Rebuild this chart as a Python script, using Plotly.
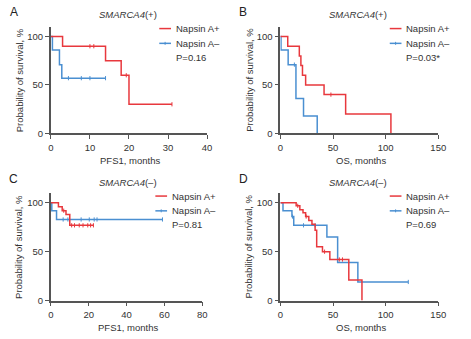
import numpy as np
import plotly.graph_objects as go

W, H = 471, 339
RED = "#E8383D"
BLUE = "#4A8FD1"
AXC = "#555555"
TXT = "#333333"
FONT = "Liberation Sans, Arial, sans-serif"

# ---------------- data ----------------
# Panel A: SMARCA4(+), PFS1
A_pos_t = [0, 3, 14, 18, 20, 31]
A_pos_s = [100, 90, 75, 60, 30, 30]
A_pos_cens = [10, 11, 19.3, 31]
A_neg_t = [0, 0.4, 2.2, 2.8, 14]
A_neg_s = [100, 86, 71, 57, 57]
A_neg_cens = [4.5, 7.8, 10, 14]

# Panel B: SMARCA4(+), OS
B_pos_t = [0, 7, 18, 19.5, 21, 24, 41.5, 62, 105]
B_pos_s = [100, 90, 80, 70, 60, 50, 40, 20, 0]
B_pos_cens = [48]
B_neg_t = [0, 0.6, 7.4, 14.8, 22, 35]
B_neg_s = [100, 86, 71, 36, 18, 0]
B_neg_cens = [13.3]

# Panel C: SMARCA4(-), PFS1
C_pos_t = [0, 4, 6, 8, 10, 22.5]
C_pos_s = [100, 96, 92, 88, 77, 77]
C_pos_cens = [6.8, 11, 12.5, 15, 17, 19.5, 21, 22.5]
C_neg_t = [0, 0.5, 3, 59]
C_neg_s = [100, 92, 83, 83]
C_neg_cens = [6.5, 9, 16, 20.3, 22.9, 24.4, 59]

# Panel D: SMARCA4(-), OS
D_pos_t = [0, 15, 18.5, 21.5, 24, 27, 30, 33, 34.5, 40, 47, 65, 77.5]
D_pos_s = [100, 97, 93, 90, 86, 82, 78, 72, 55, 50, 42, 21, 0]
D_pos_cens = [16.5, 24.5, 42, 56, 59]
D_neg_t = [0, 2.5, 11, 12.7, 44.2, 54.4, 73.6, 121.5]
D_neg_s = [100, 92, 86, 77, 65, 39, 19, 19]
D_neg_cens = [11.5, 22, 33, 121.5]

panel_letters = ["A", "B", "C", "D"]
panel_titles = ["(+)", "(+)", "(\u2013)", "(\u2013)"]
x_titles = ["PFS1, months", "OS, months", "PFS1, months", "OS, months"]
x_ticks = [[0, 10, 20, 30, 40], [0, 50, 100, 150], [0, 20, 40, 60, 80], [0, 50, 100, 150]]
y_ticks = [0, 50, 100]
p_values = ["P=0.16", "P=0.03*", "P=0.81", "P=0.69"]
legend_names = ["Napsin A+", "Napsin A\u2013"]

panels = [
    (A_pos_t, A_pos_s, A_pos_cens, A_neg_t, A_neg_s, A_neg_cens),
    (B_pos_t, B_pos_s, B_pos_cens, B_neg_t, B_neg_s, B_neg_cens),
    (C_pos_t, C_pos_s, C_pos_cens, C_neg_t, C_neg_s, C_neg_cens),
    (D_pos_t, D_pos_s, D_pos_cens, D_neg_t, D_neg_s, D_neg_cens),
]

# ---------------- layout geometry (pixels) ----------------
xdom_px = [(49, 209), (284, 445.7), (49, 204), (284, 445.7)]
ydom_px = [(135.3, 27.3), (135.3, 27.3), (305, 196), (305, 196)]


def px(x, y):
    return x / W, 1 - y / H


def step_at(t, s, c):
    t = np.asarray(t, float)
    s = np.asarray(s, float)
    idx = np.searchsorted(t, np.asarray(c, float), side="right") - 1
    return s[idx]


fig = go.Figure()
layout = dict(
    width=W, height=H, autosize=False,
    margin=dict(l=0, r=0, t=0, b=0),
    paper_bgcolor="white", plot_bgcolor="white",
    showlegend=False,
    font=dict(family=FONT, color=TXT),
)
annotations = []
shapes = []

for i, (pt, ps, pc, nt, ns, nc) in enumerate(panels):
    k = "" if i == 0 else str(i + 1)
    xa, ya = "x" + k, "y" + k
    for (t, s, c, col) in [(nt, ns, nc, BLUE), (pt, ps, pc, RED)]:
        fig.add_trace(go.Scatter(x=t, y=s, mode="lines", line=dict(color=col, width=1.5, shape="hv"),
                                 xaxis=xa, yaxis=ya, cliponaxis=False, hoverinfo="skip"))
        fig.add_trace(go.Scatter(x=c, y=step_at(t, s, c), mode="markers",
                                 marker=dict(symbol="line-ns", size=3, line=dict(color=col, width=1)),
                                 xaxis=xa, yaxis=ya, cliponaxis=False, hoverinfo="skip"))
    x0, x1 = xdom_px[i]
    yb, yt = ydom_px[i]
    common = dict(showline=True, linecolor=AXC, linewidth=1.6, ticks="outside", ticklen=4,
                  tickwidth=1.2, tickcolor=AXC, tickfont=dict(size=9.5, color=TXT, family=FONT),
                  showgrid=False, zeroline=False, fixedrange=True)
    layout["xaxis" + k] = dict(domain=[x0 / W, x1 / W], range=[0, x_ticks[i][-1]],
                               tickvals=x_ticks[i], anchor=ya, **common)
    layout["yaxis" + k] = dict(domain=[1 - yb / H, 1 - yt / H], range=[0, 110],
                               tickvals=y_ticks, anchor=xa, **common)

    left = 0 if i % 2 == 0 else 235
    top = 0 if i < 2 else 170
    # panel letter
    ax_, ay_ = px(left + 11, top + 12)
    annotations.append(dict(text=panel_letters[i], x=ax_, y=ay_, xref="paper", yref="paper",
                            showarrow=False, font=dict(size=12, color="#222"), xanchor="center", yanchor="middle"))
    # title
    tx, ty = px(left + 128, top + 15)
    annotations.append(dict(text="<i>SMARCA4</i>" + panel_titles[i], x=tx, y=ty, xref="paper", yref="paper",
                            showarrow=False, font=dict(size=9.5, color=TXT), xanchor="center", yanchor="middle"))
    # y title
    yx, yy = px(left + 16.5, (yb + yt) / 2)
    annotations.append(dict(text="Probability of survival, %", x=yx, y=yy, xref="paper", yref="paper",
                            showarrow=False, textangle=-90, font=dict(size=9.5, color=TXT),
                            xanchor="center", yanchor="middle"))
    # x title
    xx, xy = px((x0 + x1) / 2 + 1.5, yb + 27.5)
    annotations.append(dict(text=x_titles[i], x=xx, y=xy, xref="paper", yref="paper",
                            showarrow=False, font=dict(size=9.5, color=TXT), xanchor="center", yanchor="middle"))
    # legend
    lx0 = left + (160 if i % 2 == 0 else 161) - (4 if i == 2 else 0)
    lx1 = lx0 + 12
    ly = [top + 29, top + 44, top + 58]
    for j, (name, col) in enumerate(zip(legend_names, [RED, BLUE])):
        a0, b0 = px(lx0, ly[j])
        a1, _ = px(lx1, ly[j])
        shapes.append(dict(type="line", xref="paper", yref="paper", x0=a0, x1=a1, y0=b0, y1=b0,
                           line=dict(color=col, width=1.5)))
        if j == 1:
            m = (lx0 + lx1) / 2
            c0, d0 = px(m, ly[j] - 1.5)
            _, d1 = px(m, ly[j] + 1.5)
            shapes.append(dict(type="line", xref="paper", yref="paper", x0=c0, x1=c0, y0=d0, y1=d1,
                               line=dict(color=col, width=1)))
        tx_, ty_ = px(lx1 + 3, ly[j])
        annotations.append(dict(text=name, x=tx_, y=ty_, xref="paper", yref="paper", showarrow=False,
                                font=dict(size=9.5, color=TXT), xanchor="left", yanchor="middle"))
    tx_, ty_ = px(lx1 + 3, ly[2])
    annotations.append(dict(text=p_values[i], x=tx_, y=ty_, xref="paper", yref="paper", showarrow=False,
                            font=dict(size=9.5, color=TXT), xanchor="left", yanchor="middle"))

layout["annotations"] = annotations
layout["shapes"] = shapes
fig.update_layout(**layout)
fig.write_html("out.html")
